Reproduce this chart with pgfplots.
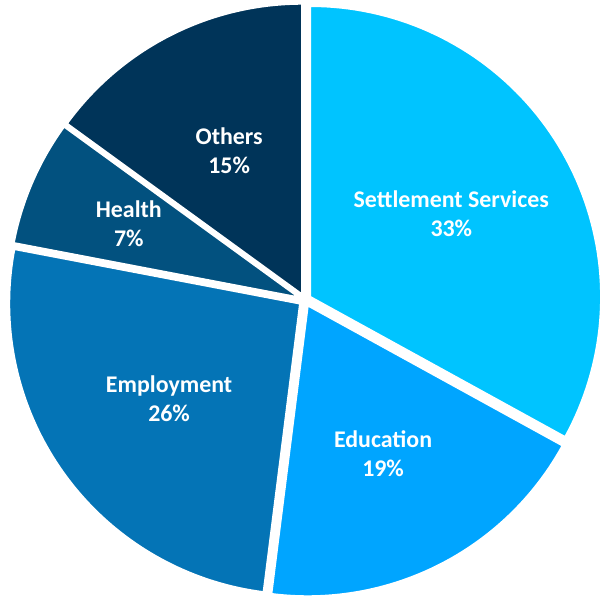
\documentclass[border=0pt]{standalone}
\usepackage{fontspec}
\setmainfont{Carlito}
\usepackage{pgfplots}
\usepackage{pgfplotstable}
\pgfplotsset{compat=1.18}

\definecolor{cSet}{HTML}{00C4FF}
\definecolor{cEdu}{HTML}{00A5FF}
\definecolor{cEmp}{HTML}{0474B6}
\definecolor{cHea}{HTML}{02517F}
\definecolor{cOth}{HTML}{003459}

% share in percent, label distance from centre (px), colour
\pgfplotstableread[col sep=comma]{
name,value,dist,col
Settlement Services,33,170,cSet
Education,19,172,cEdu
Employment,26,168,cEmp
Health,7,192,cHea
Others,15,167,cOth
}\piedata

\begin{document}
\begin{tikzpicture}
\begin{axis}[
    hide axis,
    scale only axis,
    width=12.26cm, height=11.94cm,
    xmin=0, xmax=613,
    ymin=0, ymax=597,
    clip=false,
]
\path (axis cs:0,0) rectangle (axis cs:613,597);
\pgfplotstablegetrowsof{\piedata}
\pgfmathtruncatemacro\lastrow{\pgfplotsretval-1}
\def\cum{0}
\pgfplotsforeachungrouped \i in {0,...,\lastrow}{%
  \pgfplotstablegetelem{\i}{value}\of\piedata \let\val\pgfplotsretval
  \pgfplotstablegetelem{\i}{name}\of\piedata \let\nm\pgfplotsretval
  \pgfplotstablegetelem{\i}{dist}\of\piedata \let\dd\pgfplotsretval
  \pgfplotstablegetelem{\i}{col}\of\piedata \let\cc\pgfplotsretval
  \pgfmathsetmacro\aA{90-3.6*\cum}
  \pgfmathsetmacro\aB{90-3.6*(\cum+\val)}
  \pgfmathsetmacro\am{(\aA+\aB)/2}
  \pgfmathsetmacro\ox{305+6*cos(\am)}
  \pgfmathsetmacro\oy{297+6*sin(\am)}
  \pgfmathsetmacro\lx{305+\dd*cos(\am)}
  \pgfmathsetmacro\ly{297+\dd*sin(\am)}
  \edef\temp{\noexpand\fill[fill=\cc, draw=white, line width=1.2pt]
    (axis cs:\ox,\oy) -- plot[domain=\aA:\aB, samples=80]
    (axis cs:{\ox+291*cos(\noexpand\x)},{\oy+291*sin(\noexpand\x)}) -- cycle;
    \noexpand\node[text=white, font=\noexpand\bfseries\noexpand\fontsize{13.6}{16.5}\noexpand\selectfont, align=center]
    at (axis cs:\lx,\ly) {\nm\noexpand\\\val\noexpand\%};}
  \temp
  \pgfmathsetmacro\cum{\cum+\val}
}
\end{axis}
\end{tikzpicture}
\end{document}
